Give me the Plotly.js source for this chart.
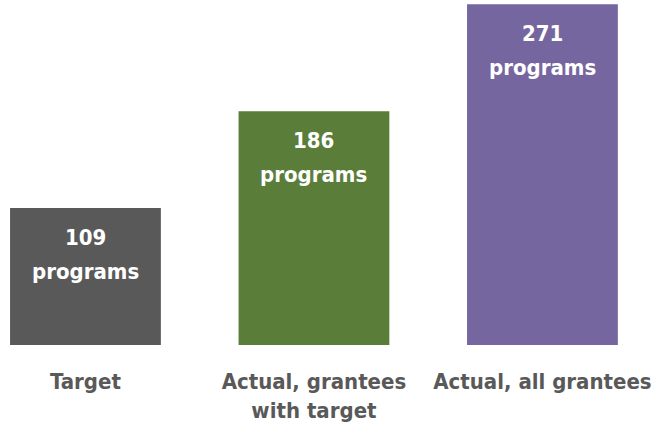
<!DOCTYPE html>
<html><head><meta charset="utf-8">
<script src="https://cdn.plot.ly/plotly-3.0.1.min.js"></script>
<style>html,body{margin:0;padding:0;background:#fff}#chart{width:656px;height:431px}</style>
</head><body><div id="chart"></div>
<script>
const categories = ["Target", "Actual, grantees<br>with target", "Actual, all grantees"];
const values = [109, 186, 271];
const unitLabel = "programs";
const colors = ["#595959", "#5A7E3A", "#7566A0"];
const FONT = "DejaVu Sans Condensed, Liberation Sans Narrow, Arial Narrow, sans-serif";

const trace = {
  type: "bar",
  x: [0, 1, 2],
  y: values,
  width: 0.66,
  marker: {color: colors},
  hoverinfo: "none"
};
const annotations = [];
values.forEach((v, i) => {
  annotations.push({
    x: i, y: v, xref: "x", yref: "y",
    text: "<b>" + v + "</b>",
    showarrow: false, yanchor: "top", yshift: -15,
    font: {family: FONT, size: 22, color: "#ffffff"}
  });
  annotations.push({
    x: i, y: v, xref: "x", yref: "y",
    text: "<b>" + unitLabel + "</b>",
    showarrow: false, yanchor: "top", yshift: -49,
    font: {family: FONT, size: 22, color: "#ffffff"}
  });
});
const layout = {
  width: 656, height: 431,
  margin: {l: 0, r: 0, t: 0, b: 86},
  paper_bgcolor: "#ffffff", plot_bgcolor: "#ffffff",
  showlegend: false,
  xaxis: {
    range: [-0.374, 2.497],
    tickmode: "array", tickvals: [0, 1, 2],
    ticktext: categories.map(c => "<b>" + c + "</b>"),
    tickfont: {family: FONT, size: 22, color: "#595959"},
    ticklabeloverflow: "allow",
    showgrid: false, zeroline: false, showline: false,
    ticks: "outside", ticklen: 17, tickcolor: "rgba(0,0,0,0)",
    fixedrange: true
  },
  yaxis: {
    range: [0, 274.4], visible: false, showgrid: false, zeroline: false, fixedrange: true
  },
  annotations: annotations
};
Plotly.newPlot("chart", [trace], layout, {displayModeBar: false, staticPlot: true});
</script></body></html>
